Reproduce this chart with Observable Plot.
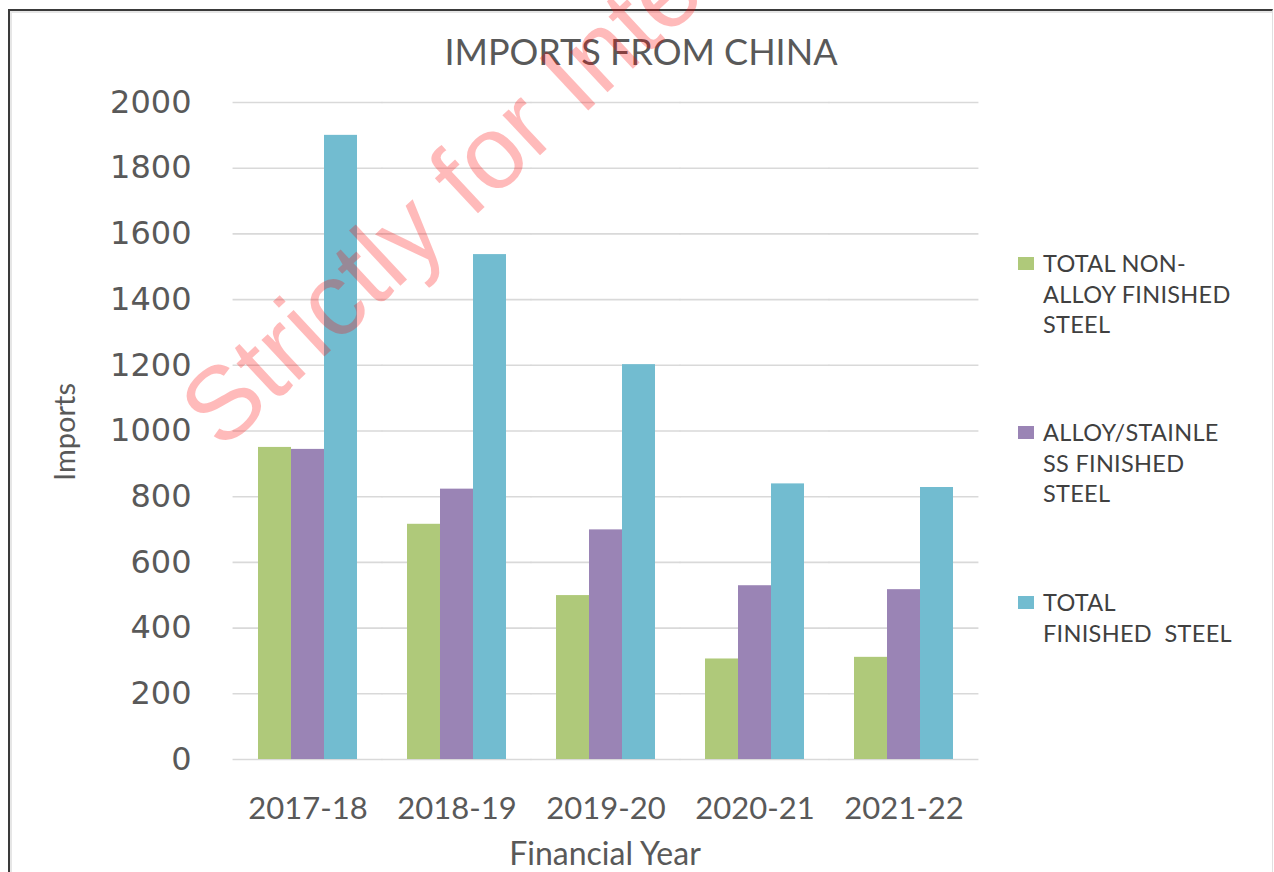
<!DOCTYPE html>
<html>
<head>
<meta charset="utf-8">
<script src="https://cdn.jsdelivr.net/npm/d3@7"></script>
<script src="https://cdn.jsdelivr.net/npm/@observablehq/plot@0.6"></script>
<style>
  html, body { margin: 0; padding: 0; background: #fff; overflow: hidden; }
  #wrap { position: relative; width: 1274px; height: 872px; overflow: hidden; background: #fff; }
  #chart { position: absolute; left: 0; top: 0; }
  .frame { position: absolute; left: 8px; top: 9px; width: 1262px; height: 880px;
           border-top: 2px solid #3a3a3a; border-left: 2px solid #3a3a3a; border-right: 1px solid #e0e0e0;
           box-shadow: inset 2px 2px 0 #e6e6e6; pointer-events: none; }
  .title { position: absolute; left: 0; width: 1274px; top: 29px; text-align: center;
           font-family: Lato, sans-serif; font-size: 36px; color: #595959; padding-left: 8px; box-sizing: border-box; }
  .ylab { position: absolute; left: 63px; top: 432px; transform: translate(-50%, -50%) rotate(-90deg);
          font-family: Lato, sans-serif; font-size: 29px; line-height: 1; color: #595959; white-space: nowrap; }
  .xlab { position: absolute; left: 605px; top: 853px; transform: translate(-50%, -50%);
          font-family: Lato, sans-serif; font-size: 32px; line-height: 1; color: #595959; white-space: nowrap; }
  .legend-item { position: absolute; left: 1018px; }
  .legend-item .sw { position: absolute; left: 0; top: 9px; width: 16px; height: 13px; }
  .legend-item .tx { position: absolute; left: 25px; top: 0; font-family: Lato, sans-serif; font-size: 23.5px;
                     letter-spacing: 0.3px; line-height: 30.5px; color: #404040; white-space: pre; }
  #wm { position: absolute; left: 0; top: 0; pointer-events: none; }
</style>
</head>
<body>
<div id="wrap">
  <div id="chart"></div>
  <div class="title" id="title"></div>
  <div class="ylab" id="ylab"></div>
  <div class="xlab" id="xlab"></div>
  <div id="legend"></div>
  <div class="frame"></div>
  <svg id="wm" width="1274" height="872"></svg>
</div>
<script>
// ---- data ----
const years = ["2017-18", "2018-19", "2019-20", "2020-21", "2021-22"];
const seriesNames = ["TOTAL NON-ALLOY FINISHED STEEL", "ALLOY/STAINLESS FINISHED STEEL", "TOTAL FINISHED STEEL"];
const nonAlloy = [950, 716, 499, 306, 311];
const alloyStainless = [944, 823, 699, 529, 517];
const totalFinished = [1900, 1537, 1202, 839, 828];
const seriesColors = ["#afc97a", "#9a84b5", "#72bcd0"];
const yTicks = [0, 200, 400, 600, 800, 1000, 1200, 1400, 1600, 1800, 2000];
const legendLines = [["TOTAL NON-", "ALLOY FINISHED", "STEEL"], ["ALLOY/STAINLE", "SS FINISHED", "STEEL"], ["TOTAL", "FINISHED  STEEL"]];
const titleText = "IMPORTS FROM CHINA";
const yTitle = "Imports";
const xTitle = "Financial Year";
const watermark = "Strictly for Internal";

const seriesValues = [nonAlloy, alloyStainless, totalFinished];
const data = [];
years.forEach((yr, i) => seriesNames.forEach((s, j) => data.push({year: yr, series: s, value: seriesValues[j][i]})));

const W = 1274, H = 872, mL = 232, mR = 294, mT = 102, mB = 113;
const padInner = 1/3, padOuter = 1/6;
const step = (W - mL - mR) / (years.length - padInner + 2 * padOuter);
const gridExtend = -(step * padInner / 2) - 0.5;

const chart = Plot.plot({
  width: W,
  height: H,
  marginLeft: mL,
  marginRight: mR,
  marginTop: mT,
  marginBottom: mB,
  style: {background: "transparent", color: "#595959", overflow: "visible"},
  fx: {domain: years, paddingInner: padInner, paddingOuter: padOuter, label: null},
  x: {domain: seriesNames, padding: 0, axis: null},
  y: {domain: [0, 2000], axis: null},
  color: {domain: seriesNames, range: seriesColors},
  marks: [
    Plot.ruleY(yTicks, {stroke: "#d9d9d9", strokeWidth: 1.6, insetLeft: gridExtend, insetRight: gridExtend}),
    Plot.barY(data, {fx: "year", x: "series", y: "value", fill: "series"}),
    Plot.axisY({ticks: yTicks, tickSize: 0, tickPadding: 67, fontSize: 32, fontFamily: "DejaVu Sans", label: null, tickFormat: d => String(d)}),
    Plot.axisFx({anchor: "bottom", tickSize: 0, tickPadding: 37, fontSize: 31, fontFamily: "Lato", label: null})
  ]
});
document.getElementById("chart").appendChild(chart);

document.getElementById("title").textContent = titleText;
document.getElementById("ylab").textContent = yTitle;
document.getElementById("xlab").textContent = xTitle;

const legendTops = [248, 417, 587];
const legend = document.getElementById("legend");
legendLines.forEach((lines, i) => {
  const item = document.createElement("div");
  item.className = "legend-item";
  item.style.top = legendTops[i] + "px";
  const sw = document.createElement("div");
  sw.className = "sw";
  sw.style.background = seriesColors[i];
  const tx = document.createElement("div");
  tx.className = "tx";
  tx.textContent = lines.join("\n");
  item.appendChild(sw);
  item.appendChild(tx);
  legend.appendChild(item);
});

// watermark
const wm = d3.select("#wm");
wm.append("text")
  .attr("x", 222).attr("y", 452)
  .attr("transform", "rotate(-43 222 452)")
  .attr("font-family", "Liberation Sans, Arial, sans-serif")
  .attr("font-size", 104)
  .attr("fill", "rgba(255,0,0,0.27)")
  .text(watermark);
</script>
</body>
</html>
